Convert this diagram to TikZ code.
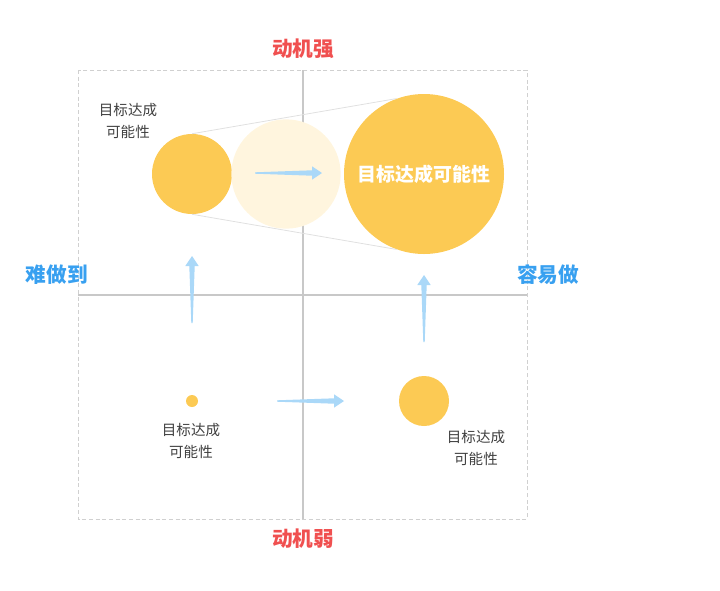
\documentclass[tikz,border=0pt]{standalone}
\usepackage{fontspec}
\setmainfont{Noto Sans CJK SC}
\definecolor{goal}{RGB}{252, 202, 84}
\definecolor{goalpale}{RGB}{255, 245, 222}
\definecolor{arr}{RGB}{170, 216, 248}
\definecolor{axisc}{RGB}{200, 200, 200}
\definecolor{redtxt}{RGB}{240, 80, 80}
\definecolor{bluetxt}{RGB}{56, 160, 240}
\usetikzlibrary{positioning}
\usetikzlibrary{calc}

\tikzset{
	ball/.style={circle, fill=goal, draw=none, inner sep=0pt},
	note/.style={align=center, font=\fontsize{10.9pt}{16.5pt}\selectfont, text=black!75},
	motive/.style={font=\fontsize{15.5pt}{17pt}\selectfont\bfseries, text=redtxt},
	effort/.style={font=\fontsize{15.5pt}{17pt}\selectfont\bfseries, text=bluetxt},
	shaft/.style={fill=arr, draw=none}
}

\begin{document}
\begin{tikzpicture}[x=0.75pt, y=-0.75pt]
	\useasboundingbox (0,0) rectangle (720,590);
	% frame and axes
	\draw [axisc!85, dash pattern=on 3pt off 2pt, line width=0.5pt] (78,70) rectangle (527,519);
	\coordinate (top) at (303,70);
	\coordinate (bottom) at (303,519);
	\coordinate (left) at (78,295);
	\coordinate (right) at (527,295);
	\draw [axisc, line width=1.2pt] (top) -- (bottom);
	\draw [axisc, line width=1.2pt] (left) -- (right);
	% axis labels
	\node (strong) [motive] at (303,49) {动机强};
	\node (weak) [motive] at (303,539) {动机弱};
	\node (hard) [effort] at (57,275) {难做到};
	\node (easy) [effort] at (548,275) {容易做};
	% quadrant: strong, hard
	\node (p1) [ball, minimum size=60pt] at (192,174) {};
	\node (p1b) [circle, fill=goalpale, inner sep=0pt, minimum size=82pt] at (286,174) {};
	\node (p2) [ball, minimum size=120pt, text=white, font=\fontsize{14.2pt}{16pt}\selectfont\bfseries] at (424,174) {目标达成可能性};
	\draw [black!12, line width=0.6pt] (p1.north) -- (p2.110);
	\draw [black!12, line width=0.6pt] (p1.south) -- (p2.250);
	\node (n1) [note] at (128,121) {目标达成\\可能性};
	% quadrant: weak, hard
	\node (p3) [ball, minimum size=9pt] at (192,401) {};
	\node (n3) [note] at (191,441) {目标达成\\可能性};
	% quadrant: weak, easy
	\node (p4) [ball, minimum size=37.5pt] at (424,401) {};
	\node (n4) [note] at (476,448) {目标达成\\可能性};
	% arrows
	\coordinate (a1) at (255,173);
	\coordinate (a2) at (277,401);
	\coordinate (a3) at (192,323);
	\coordinate (a4) at (424,342);
	\foreach \c in {a1, a2}
		\fill [shaft] (\c) ++(0,-0.7) -- ++(57,-2) -- ++(0,-4) -- ++(10,6.7) -- ++(-10,6.7) -- ++(0,-4) -- ++(-57,-2) -- cycle;
	\foreach \c in {a3, a4}
		\fill [shaft] (\c) ++(-0.7,0) -- ++(-2,-57) -- ++(-4,0) -- ++(6.7,-10) -- ++(6.7,10) -- ++(-4,0) -- ++(-2,57) -- cycle;
\end{tikzpicture}
\end{document}
